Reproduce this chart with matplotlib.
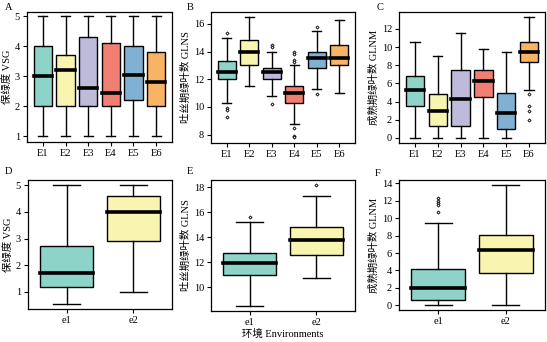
import numpy as np
import matplotlib.pyplot as plt

# box statistics: whislo, q1, med, q3, whishi
env6 = ['E1', 'E2', 'E3', 'E4', 'E5', 'E6']
env2 = ['e1', 'e2']

vsg_lo = [1, 1, 1, 1, 1, 1]
vsg_q1 = [2, 2, 2, 2, 2.2, 2]
vsg_med = [3, 3.2, 2.6, 2.43, 3.05, 2.8]
vsg_q3 = [4, 3.7, 4.3, 4.1, 4, 3.8]
vsg_hi = [5, 5, 5, 5, 5, 5]
vsg_fl = [[], [], [], [], [], []]

glns_lo = [10.3, 11.5, 10.8, 8.8, 11.3, 11.0]
glns_q1 = [12.0, 13.0, 12.0, 10.3, 12.8, 13.0]
glns_med = [12.5, 14.0, 12.5, 11.0, 13.5, 13.5]
glns_q3 = [13.3, 14.8, 12.8, 11.5, 14.0, 14.5]
glns_hi = [15.0, 16.5, 14.0, 13.0, 15.5, 16.3]
glns_fl = [[15.3, 9.9, 9.77, 9.25], [], [14.5, 14.35, 10.22],
           [13.95, 13.8, 13.4, 13.25, 8.45, 7.93, 7.8], [15.8, 10.96], []]

glnm_lo = [0, 0, 0, 0, 0, 5.25]
glnm_q1 = [3.5, 1.3, 1.3, 4.5, 1.0, 8.3]
glnm_med = [5.25, 2.93, 4.25, 6.3, 2.7, 9.5]
glnm_q3 = [6.8, 4.8, 7.46, 7.46, 5.0, 10.5]
glnm_hi = [10.5, 9.0, 11.5, 9.77, 9.5, 13.28]
glnm_fl = [[], [], [], [], [], [4.83, 3.55, 3.0, 2.0]]

vsg2_lo = [0.52, 1.0]
vsg2_q1 = [1.16, 2.89]
vsg2_med = [1.69, 4.0]
vsg2_q3 = [2.71, 4.59]
vsg2_hi = [5.0, 5.0]
vsg2_fl = [[], []]

glns2_lo = [8.48, 10.72]
glns2_q1 = [10.99, 12.59]
glns2_med = [11.98, 13.76]
glns2_q3 = [12.78, 14.8]
glns2_hi = [15.2, 17.35]
glns2_fl = [[15.6], [18.2]]

glnm2_lo = [0, 0]
glnm2_q1 = [0.57, 3.75]
glnm2_med = [2.03, 6.35]
glnm2_q3 = [4.2, 8.05]
glnm2_hi = [9.45, 13.8]
glnm2_fl = [[12.28, 12.0, 11.77, 11.54, 10.67], []]

colors = ['#8dd3c7', '#f8f5b0', '#bebada', '#f07f72', '#80b1d3', '#f8b464']

plt.rcParams['font.family'] = ['Liberation Serif', 'Noto Sans CJK SC']
plt.rcParams['font.size'] = 7.5


def stats(lo, q1, med, q3, hi, fl):
    return [dict(whislo=lo[i], q1=q1[i], med=med[i], q3=q3[i], whishi=hi[i], fliers=fl[i])
            for i in range(len(lo))]


def draw(ax, st, labels, ylabel, ylim, yticks):
    n = len(st)
    b = ax.bxp(st, positions=np.arange(1, n + 1), widths=0.8, patch_artist=True,
               boxprops=dict(linewidth=1.0, edgecolor='black'),
               whiskerprops=dict(linewidth=1.0),
               capprops=dict(linewidth=1.0),
               medianprops=dict(linewidth=2.6, color='black', solid_capstyle='projecting'),
               flierprops=dict(marker='D', markersize=1.6, markerfacecolor='white',
                               markeredgecolor='black', markeredgewidth=0.6))
    for p, c in zip(b['boxes'], colors):
        p.set_facecolor(c)
    ax.set_xticks(np.arange(1, n + 1))
    ax.set_xticklabels(labels)
    if n == 6:
        ax.set_xlim(0.3, 6.7)
    else:
        ax.set_xlim(0.42, 2.58)
    ax.set_ylim(*ylim)
    ax.set_yticks(yticks)
    ax.set_ylabel(ylabel, labelpad=2)
    ax.tick_params(direction='out', length=3, width=0.8, pad=2)
    for s in ax.spines.values():
        s.set_linewidth(0.9)


fig = plt.figure(figsize=(5.47, 3.42), dpi=100)
W, H = 547, 342


def rect(l, r, t, b):
    return [l / W, (H - b) / H, (r - l) / W, (b - t) / H]


axA = fig.add_axes(rect(27, 172, 12, 142))
axB = fig.add_axes(rect(211, 355, 12, 143))
axC = fig.add_axes(rect(399, 545, 12, 143))
axD = fig.add_axes(rect(28, 172, 180, 309))
axE = fig.add_axes(rect(211, 355, 180, 311))
axF = fig.add_axes(rect(399, 545, 180, 310))

draw(axA, stats(vsg_lo, vsg_q1, vsg_med, vsg_q3, vsg_hi, vsg_fl), env6,
     '保绿度 VSG', (0.8, 5.15), [1, 2, 3, 4, 5])
draw(axB, stats(glns_lo, glns_q1, glns_med, glns_q3, glns_hi, glns_fl), env6,
     '吐丝期绿叶数 GLNS', (7.4, 16.85), [8, 10, 12, 14, 16])
draw(axC, stats(glnm_lo, glnm_q1, glnm_med, glnm_q3, glnm_hi, glnm_fl), env6,
     '成熟期绿叶数 GLNM', (-0.55, 13.85), [0, 2, 4, 6, 8, 10, 12])
draw(axD, stats(vsg2_lo, vsg2_q1, vsg2_med, vsg2_q3, vsg2_hi, vsg2_fl), env2,
     '保绿度 VSG', (0.35, 5.2), [1, 2, 3, 4, 5])
draw(axE, stats(glns2_lo, glns2_q1, glns2_med, glns2_q3, glns2_hi, glns2_fl), env2,
     '吐丝期绿叶数 GLNS', (8.1, 18.6), [10, 12, 14, 16, 18])
draw(axF, stats(glnm2_lo, glnm2_q1, glnm2_med, glnm2_q3, glnm2_hi, glnm2_fl), env2,
     '成熟期绿叶数 GLNM', (-0.55, 14.4), [0, 2, 4, 6, 8, 10, 12, 14])

axE.set_xlabel('环境 Environments', labelpad=1)

for lab, x, y in [('A', 5, 7), ('B', 187, 7), ('C', 377, 7),
                  ('D', 5, 172), ('E', 187, 172), ('F', 375, 173)]:
    fig.text(x / W, 1 - y / H, lab, ha='left', va='center', fontsize=7.5)

fig.savefig('out.png', dpi=100)
